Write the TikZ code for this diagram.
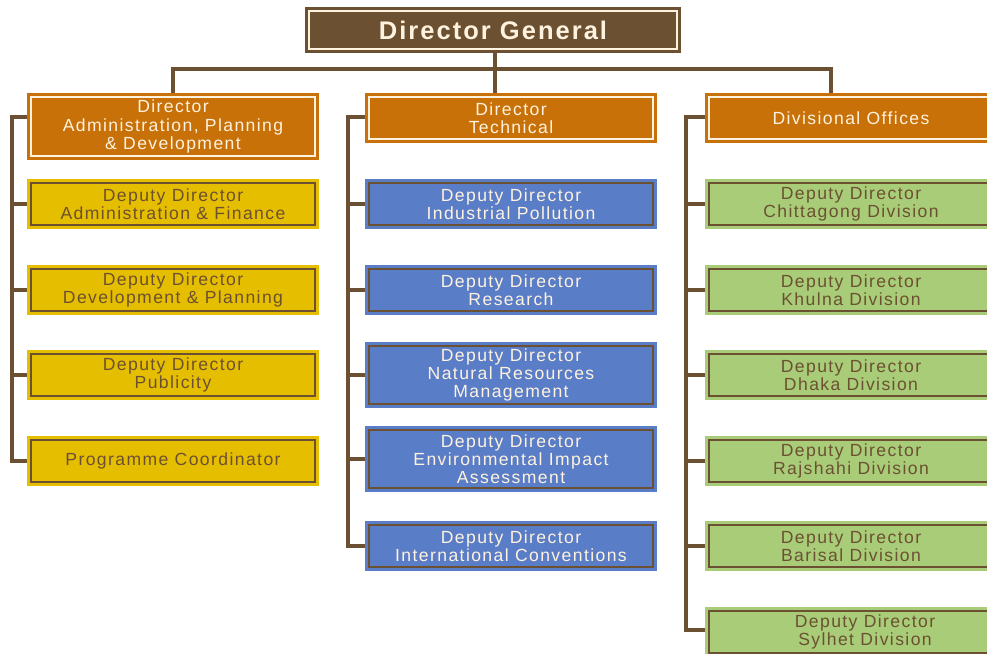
\documentclass[tikz,border=0pt]{standalone}
\usepackage{fontspec}
\usepackage{xcolor}
\usepackage{tikz}
\usetikzlibrary{backgrounds}
\newfontfamily\chartfont[LetterSpace=8]{Liberation Sans}
\definecolor{dgbrown}{RGB}{108, 80, 50}
\definecolor{cream}{RGB}{255, 242, 222}
\definecolor{dirorange}{RGB}{200, 113, 8}
\definecolor{ddgold}{RGB}{230, 190, 0}
\definecolor{ddblue}{RGB}{90, 125, 200}
\definecolor{ddgreen}{RGB}{168, 204, 120}

\begin{document}
\begin{tikzpicture}[x=0.02cm, y=-0.02cm,
    framed/.style 2 args={fill=#1, draw=#2, preaction={draw=#1, line width=0.16cm}},
    box/.style={rectangle, minimum width=5.68cm, minimum height=0.84cm, inner sep=0pt,
        align=center, line width=1.1pt, font=\chartfont\fontsize{10}{10.4}\selectfont},
    dgbox/.style={box, framed={dgbrown}{cream}, text=cream, minimum width=7.36cm,
        minimum height=0.76cm, font=\chartfont\bfseries\fontsize{14.5}{16}\selectfont},
    dirbox/.style={box, framed={dirorange}{cream}, text=cream},
    goldbox/.style={box, framed={ddgold}{dgbrown}, text=dgbrown},
    bluebox/.style={box, framed={ddblue}{dgbrown}, text=cream},
    greenbox/.style={box, framed={ddgreen}{dgbrown}, text=dgbrown},
    link/.style={draw=dgbrown, line width=0.08cm}]
    \useasboundingbox (0,0) rectangle (987,653);
    \clip (0,0) rectangle (987,653);

    % Top of the chart
    \node[dgbox] (dg) at (493,30) {Director General};

    % Directors
    \node[dirbox, minimum height=1.18cm] (dirapd) at (173,126.5) {Director\\Administration, Planning\\\& Development};
    \node[dirbox] (dirtech) at (511,118) {Director\\Technical};
    \node[dirbox] (divoff) at (851,118) {Divisional Offices};

    % Administration, Planning & Development
    \node[goldbox] (ddaf) at (173,204) {Deputy Director\\Administration \& Finance};
    \node[goldbox] (dddp) at (173,290) {Deputy Director\\Development \& Planning};
    \node[goldbox] (ddpub) at (173,375) {Deputy Director\\Publicity};
    \node[goldbox] (prog) at (173,461) {Programme Coordinator};

    % Technical
    \node[bluebox] (ddip) at (511,204) {Deputy Director\\Industrial Pollution};
    \node[bluebox] (ddres) at (511,290) {Deputy Director\\Research};
    \node[bluebox, minimum height=1.16cm] (ddnrm) at (511,375) {Deputy Director\\Natural Resources\\Management};
    \node[bluebox, minimum height=1.16cm] (ddeia) at (511,459) {Deputy Director\\Environmental Impact\\Assessment};
    \node[bluebox] (ddic) at (511,546) {Deputy Director\\International Conventions};

    % Divisional offices
    \node[greenbox] (ddctg) at (851,204) {Deputy Director\\Chittagong Division};
    \node[greenbox] (ddkhu) at (851,290) {Deputy Director\\Khulna Division};
    \node[greenbox] (dddha) at (851,375) {Deputy Director\\Dhaka Division};
    \node[greenbox] (ddraj) at (851,461) {Deputy Director\\Rajshahi Division};
    \node[greenbox] (ddbar) at (851,546) {Deputy Director\\Barisal Division};
    \node[greenbox, minimum width=6.24cm] (ddsyl) at (865,632) {Deputy Director\\Sylhet Division};

    % Connectors
    \coordinate (bus) at (495,69);
    \coordinate (divdrop) at (831,93);
    \coordinate (spineA) at (12,117);
    \coordinate (spineB) at (348,117);
    \coordinate (spineC) at (686,117);
    \begin{scope}[on background layer]
        \draw[link] (dg.south -| bus) -- (bus |- dirtech.north);
        \draw[link] (dirapd.north) |- (bus) -| (divdrop);
        \draw[link] (dirapd.west |- spineA) -- (spineA) |- (prog.west);
        \foreach \n in {ddaf, dddp, ddpub}
            \draw[link] (spineA |- \n.west) -- (\n.west);
        \draw[link] (dirtech.west |- spineB) -- (spineB) |- (ddic.west);
        \foreach \n in {ddip, ddres, ddnrm, ddeia}
            \draw[link] (spineB |- \n.west) -- (\n.west);
        \draw[link] (divoff.west |- spineC) -- (spineC) |- ([yshift=0.04cm]ddsyl.west);
        \foreach \n in {ddctg, ddkhu, dddha, ddraj, ddbar}
            \draw[link] (spineC |- \n.west) -- (\n.west);
    \end{scope}
\end{tikzpicture}
\end{document}
